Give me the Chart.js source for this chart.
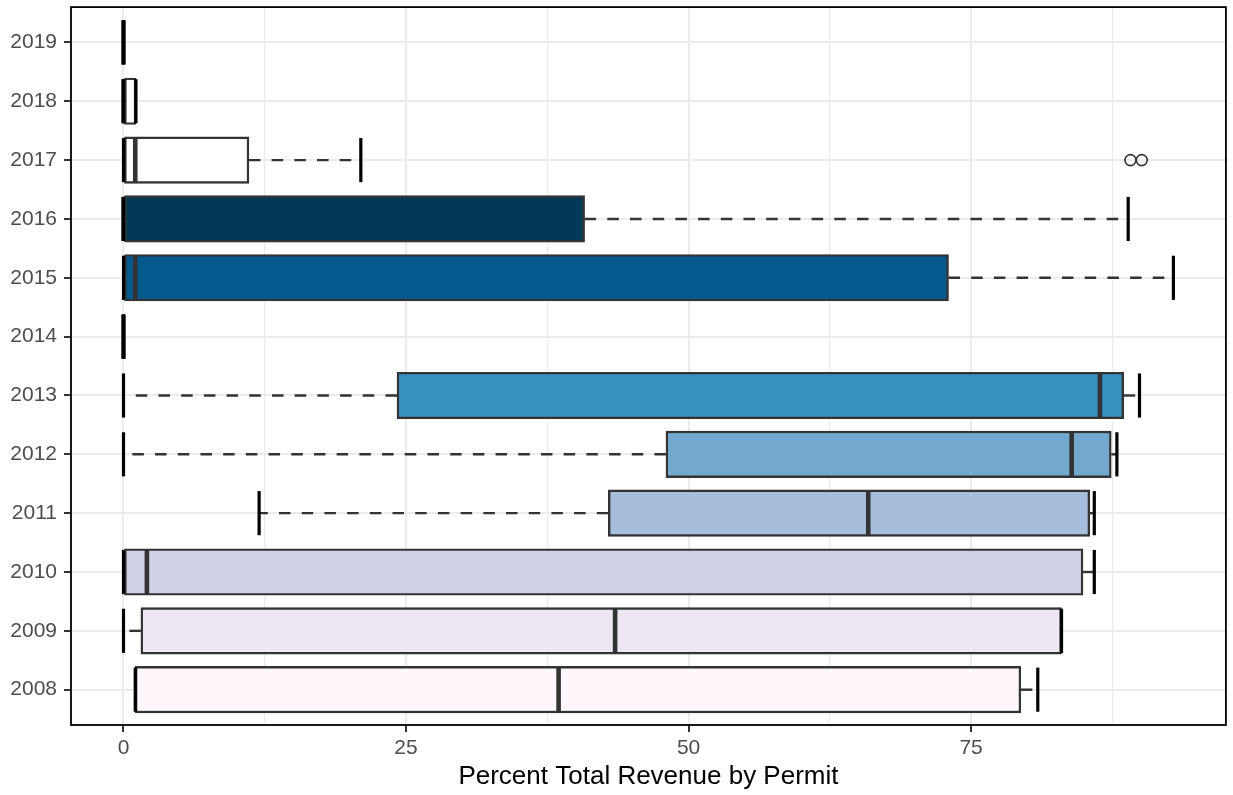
<!DOCTYPE html>
<html lang="en">

<head>
    <meta charset="UTF-8">
    <title>Percent Total Revenue by Permit</title>
    <style>
        body {
            margin: 0;
            background: white;
        }

        .chart-container {
            width: 1233px;
            height: 795px;
        }
    </style>
</head>

<body>
    <div class="chart-container">
        <canvas id="boxChart"></canvas>
    </div>

    <script src="https://cdn.jsdelivr.net/npm/chart.js"></script>
    <script>
        // box plot summary per year
        const years = ['2008', '2009', '2010', '2011', '2012', '2013', '2014', '2015', '2016', '2017', '2018', '2019'];
        const mins = [1.04, 0, 0, 12.0, 0, 0, 0, 0, 0, 0, 0, 0];
        const q1s = [1.04, 1.54, 0, 42.9, 48.0, 24.2, 0, 0, 0, 0, 0, 0];
        const medians = [38.5, 43.5, 2.07, 65.9, 83.9, 86.4, 0, 1.04, 0, 1.04, 0, 0];
        const q3s = [79.4, 83.0, 84.9, 85.5, 87.4, 88.5, 0, 73.0, 40.8, 11.1, 1.1, 0];
        const maxs = [80.9, 83.0, 85.9, 85.9, 87.9, 89.9, 0, 92.9, 88.9, 21.0, 1.1, 0];
        const outlierYears = ['2017', '2017'];
        const outlierValues = [89.1, 90.1];
        const fills = ['#fff7fb', '#ece7f2', '#d0d1e6', '#a6bddb', '#74a9cf', '#3690c0', '#0570b0', '#045a8d', '#023858', '#ffffff', '#ffffff', '#ffffff'];
        const majorTicks = [0, 25, 50, 75];
        const minorTicks = [12.5, 37.5, 62.5, 87.5];

        // ggplot style 5% expansion
        const dataMin = Math.min(...mins, ...outlierValues);
        const dataMax = Math.max(...maxs, ...outlierValues);
        const pad = (dataMax - dataMin) * 0.05;

        const isMajor = (c) => !!(c.tick && majorTicks.includes(c.tick.value));

        Chart.defaults.font.family = "'Liberation Sans', Arial, sans-serif";

        // whiskers, medians, caps and panel border
        const boxParts = {
            id: 'boxParts',
            beforeDatasetsDraw(chart) {
                const { ctx, scales: { x, y } } = chart;
                ctx.save();
                ctx.strokeStyle = '#333333';
                ctx.lineWidth = 2.4;
                ctx.setLineDash([11.5, 11.2]);
                years.forEach((yr, i) => {
                    const py = y.getPixelForValue(i);
                    ctx.beginPath();
                    ctx.moveTo(x.getPixelForValue(q3s[i]), py);
                    ctx.lineTo(x.getPixelForValue(maxs[i]), py);
                    ctx.stroke();
                    ctx.beginPath();
                    ctx.moveTo(x.getPixelForValue(q1s[i]), py);
                    ctx.lineTo(x.getPixelForValue(mins[i]), py);
                    ctx.stroke();
                });
                ctx.restore();
            },
            afterDatasetsDraw(chart) {
                const { ctx, chartArea, scales: { x, y } } = chart;
                const half = Math.abs(y.getPixelForValue(0) - y.getPixelForValue(1)) * 0.375;
                ctx.save();
                years.forEach((yr, i) => {
                    const py = y.getPixelForValue(i);
                    // median
                    ctx.strokeStyle = '#333333';
                    ctx.lineWidth = 4.6;
                    const pm = x.getPixelForValue(medians[i]);
                    ctx.beginPath();
                    ctx.moveTo(pm, py - half);
                    ctx.lineTo(pm, py + half);
                    ctx.stroke();
                    // caps
                    ctx.strokeStyle = '#000000';
                    ctx.lineWidth = 3.2;
                    [mins[i], maxs[i]].forEach(v => {
                        const px = x.getPixelForValue(v);
                        ctx.beginPath();
                        ctx.moveTo(px, py - half);
                        ctx.lineTo(px, py + half);
                        ctx.stroke();
                    });
                });
                ctx.strokeStyle = '#000000';
                ctx.lineWidth = 1.8;
                ctx.strokeRect(chartArea.left, chartArea.top, chartArea.right - chartArea.left, chartArea.bottom - chartArea.top);
                ctx.restore();
            }
        };

        const ctx = document.getElementById('boxChart').getContext('2d');

        new Chart(ctx, {
            type: 'bar',
            data: {
                datasets: [{
                    type: 'bar',
                    indexAxis: 'y',
                    data: years.map((yr, i) => ({ x: [q1s[i], q3s[i]], y: i })),
                    backgroundColor: fills,
                    borderColor: '#333333',
                    borderWidth: 2.4,
                    borderSkipped: false,
                    barThickness: 46.5
                }, {
                    type: 'scatter',
                    data: outlierValues.map((v, i) => ({ x: v, y: years.indexOf(outlierYears[i]) })),
                    pointRadius: 5.5,
                    pointBorderWidth: 1.6,
                    pointBorderColor: '#333333',
                    pointBackgroundColor: 'rgba(0,0,0,0)'
                }]
            },
            options: {
                responsive: true,
                maintainAspectRatio: false,
                animation: false,
                layout: {
                    padding: { top: 7, right: 5, bottom: 0, left: 0 }
                },
                plugins: {
                    legend: { display: false },
                    tooltip: { enabled: false }
                },
                scales: {
                    x: {
                        type: 'linear',
                        offset: false,
                        min: dataMin - pad,
                        max: dataMax + pad,
                        afterBuildTicks: (scale) => {
                            scale.ticks = [...majorTicks, ...minorTicks].sort((a, b) => a - b).map(v => ({ value: v }));
                        },
                        afterFit: (scale) => {
                            scale.height = 70;
                            scale.paddingLeft = 0;
                            scale.paddingRight = 0;
                        },
                        border: { display: false },
                        grid: {
                            offset: false,
                            color: '#ebebeb',
                            lineWidth: (c) => isMajor(c) ? 2 : 1.2,
                            tickColor: (c) => isMajor(c) ? '#333333' : 'rgba(0,0,0,0)',
                            tickWidth: 2,
                            tickLength: 7
                        },
                        ticks: {
                            autoSkip: false,
                            maxRotation: 0,
                            padding: 4,
                            color: '#4d4d4d',
                            font: { size: 21 },
                            callback: (value) => majorTicks.includes(value) ? String(value) : ''
                        },
                        title: {
                            display: true,
                            text: 'Percent Total Revenue by Permit',
                            color: '#000000',
                            font: { size: 26, lineHeight: 1.2 },
                            padding: { top: 0, bottom: 3 }
                        }
                    },
                    y: {
                        type: 'linear',
                        offset: false,
                        min: -0.6,
                        max: years.length - 0.4,
                        afterBuildTicks: (scale) => {
                            scale.ticks = years.map((yr, i) => ({ value: i }));
                        },
                        afterFit: (scale) => {
                            scale.width = 71;
                            scale.paddingTop = 0;
                            scale.paddingBottom = 0;
                        },
                        border: { display: false },
                        grid: {
                            offset: false,
                            color: '#ebebeb',
                            lineWidth: 2,
                            tickColor: '#333333',
                            tickWidth: 2,
                            tickLength: 7
                        },
                        ticks: {
                            autoSkip: false,
                            padding: 7,
                            color: '#4d4d4d',
                            font: { size: 21 },
                            callback: (value) => years[value]
                        }
                    }
                }
            },
            plugins: [boxParts]
        });
    </script>
</body>

</html>
